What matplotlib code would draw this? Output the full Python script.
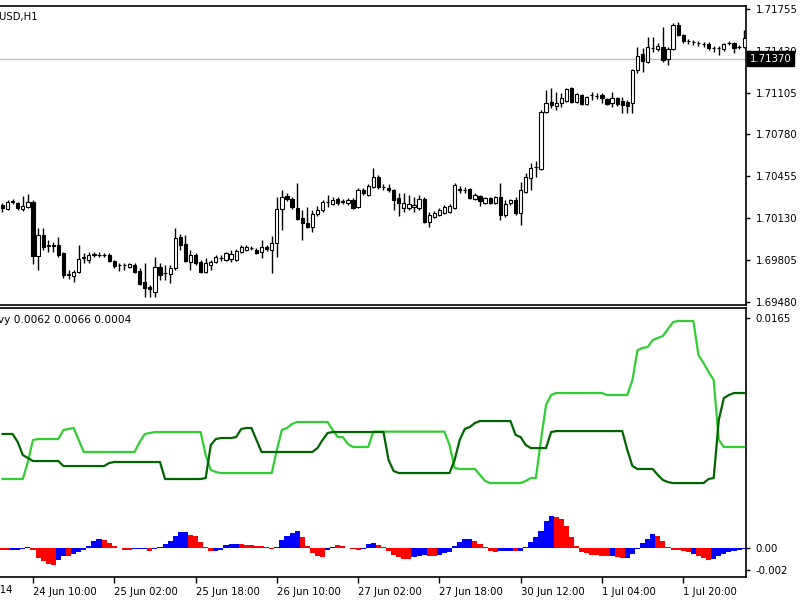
import numpy as np
import pandas as pd
import matplotlib
matplotlib.use("Agg")
import matplotlib.pyplot as plt

# ---------------- data ----------------
times = list(pd.date_range("2014-06-24 04:00", "2014-06-27 21:00", freq="h")) + \
        list(pd.date_range("2014-06-30 00:00", "2014-07-02 08:00", freq="h"))

opens = [1.70232, 1.70201, 1.70255, 1.70247, 1.70201, 1.70216, 1.70255, 1.69835, 1.69999, 1.69913,
         1.69921, 1.69921, 1.69859, 1.69688, 1.69680, 1.69711, 1.69820, 1.69804, 1.69843, 1.69843,
         1.69843, 1.69843, 1.69797, 1.69765, 1.69765, 1.69750, 1.69765, 1.69719, 1.69633, 1.69595,
         1.69556, 1.69750, 1.69703, 1.69695, 1.69742, 1.69983, 1.69929, 1.69789, 1.69843, 1.69789,
         1.69711, 1.69765, 1.69789, 1.69820, 1.69804, 1.69812, 1.69804, 1.69866, 1.69882, 1.69898,
         1.69882, 1.69866, 1.69905, 1.69882, 1.69936, 1.70201, 1.70302, 1.70278, 1.70208, 1.70131,
         1.70092, 1.70061, 1.70162, 1.70193, 1.70255, 1.70239, 1.70278, 1.70255, 1.70247, 1.70271,
         1.70216, 1.70348, 1.70309, 1.70372, 1.70449, 1.70372, 1.70364, 1.70348, 1.70286, 1.70208,
         1.70208, 1.70216, 1.70208, 1.70278, 1.70100, 1.70138, 1.70154, 1.70170, 1.70177, 1.70208,
         1.70356, 1.70348, 1.70356, 1.70278, 1.70302, 1.70247, 1.70286, 1.70247, 1.70294, 1.70154,
         1.70247, 1.70271, 1.70170, 1.70333, 1.70442, 1.70527, 1.70512, 1.70955, 1.71032, 1.71001,
         1.71025, 1.71040, 1.71141, 1.71032, 1.71087, 1.71017, 1.71087, 1.71079, 1.71087, 1.71056,
         1.71025, 1.71063, 1.71040, 1.71032, 1.71025, 1.71281, 1.71405, 1.71343, 1.71452, 1.71444,
         1.71460, 1.71366, 1.71444, 1.71631, 1.71553, 1.71506, 1.71499, 1.71491, 1.71483, 1.71483,
         1.71452, 1.71452, 1.71444, 1.71491, 1.71491, 1.71460, 1.71460]
closes = [1.70208, 1.70255, 1.70263, 1.70208, 1.70224, 1.70255, 1.69835, 1.69999, 1.69905, 1.69921,
          1.69913, 1.69843, 1.69688, 1.69695, 1.69711, 1.69812, 1.69828, 1.69843, 1.69851, 1.69840,
          1.69845, 1.69797, 1.69758, 1.69762, 1.69765, 1.69773, 1.69711, 1.69618, 1.69587, 1.69579,
          1.69750, 1.69688, 1.69700, 1.69742, 1.69975, 1.69921, 1.69797, 1.69843, 1.69781, 1.69711,
          1.69781, 1.69789, 1.69828, 1.69818, 1.69859, 1.69851, 1.69874, 1.69905, 1.69905, 1.69896,
          1.69859, 1.69905, 1.69890, 1.69936, 1.70201, 1.70294, 1.70278, 1.70216, 1.70123, 1.70092,
          1.70061, 1.70162, 1.70193, 1.70255, 1.70252, 1.70271, 1.70247, 1.70263, 1.70271, 1.70208,
          1.70348, 1.70325, 1.70379, 1.70449, 1.70372, 1.70370, 1.70348, 1.70271, 1.70247, 1.70247,
          1.70239, 1.70232, 1.70278, 1.70100, 1.70154, 1.70170, 1.70193, 1.70216, 1.70224, 1.70387,
          1.70348, 1.70346, 1.70286, 1.70309, 1.70263, 1.70286, 1.70247, 1.70294, 1.70154, 1.70239,
          1.70271, 1.70170, 1.70348, 1.70449, 1.70519, 1.70525, 1.70955, 1.71025, 1.71009, 1.71025,
          1.71063, 1.71133, 1.71032, 1.71094, 1.71017, 1.71071, 1.71085, 1.71077, 1.71063, 1.71017,
          1.71063, 1.71017, 1.71009, 1.71001, 1.71281, 1.71390, 1.71351, 1.71460, 1.71450, 1.71468,
          1.71359, 1.71444, 1.71631, 1.71553, 1.71506, 1.71504, 1.71497, 1.71489, 1.71481, 1.71452,
          1.71450, 1.71448, 1.71483, 1.71489, 1.71452, 1.71458, 1.71530]
highs = [1.70247, 1.70271, 1.70278, 1.70255, 1.70302, 1.70317, 1.70271, 1.70053, 1.70053, 1.69960,
         1.69944, 1.69983, 1.69866, 1.69727, 1.69727, 1.69921, 1.69859, 1.69866, 1.69866, 1.69866,
         1.69859, 1.69859, 1.69804, 1.69781, 1.69781, 1.69781, 1.69781, 1.69742, 1.69781, 1.69610,
         1.69828, 1.69781, 1.69765, 1.69765, 1.70053, 1.70006, 1.69999, 1.69882, 1.69859, 1.69804,
         1.69820, 1.69804, 1.69843, 1.69843, 1.69866, 1.69882, 1.69890, 1.69921, 1.69921, 1.69913,
         1.69898, 1.69960, 1.69921, 1.69991, 1.70294, 1.70348, 1.70325, 1.70294, 1.70403, 1.70193,
         1.70216, 1.70193, 1.70224, 1.70271, 1.70309, 1.70294, 1.70294, 1.70278, 1.70286, 1.70286,
         1.70364, 1.70364, 1.70395, 1.70519, 1.70465, 1.70395, 1.70395, 1.70356, 1.70325, 1.70325,
         1.70309, 1.70294, 1.70309, 1.70294, 1.70177, 1.70185, 1.70208, 1.70232, 1.70239, 1.70403,
         1.70379, 1.70372, 1.70364, 1.70325, 1.70309, 1.70294, 1.70294, 1.70302, 1.70403, 1.70271,
         1.70278, 1.70294, 1.70411, 1.70480, 1.70558, 1.70574, 1.70970, 1.71126, 1.71141, 1.71110,
         1.71102, 1.71141, 1.71149, 1.71102, 1.71094, 1.71079, 1.71110, 1.71102, 1.71102, 1.71063,
         1.71110, 1.71071, 1.71071, 1.71048, 1.71289, 1.71460, 1.71452, 1.71537, 1.71537, 1.71491,
         1.71615, 1.71460, 1.71646, 1.71654, 1.71561, 1.71522, 1.71514, 1.71506, 1.71499, 1.71499,
         1.71468, 1.71468, 1.71491, 1.71506, 1.71499, 1.71475, 1.71592]
lows = [1.70177, 1.70193, 1.70239, 1.70193, 1.70185, 1.70208, 1.69773, 1.69727, 1.69882, 1.69866,
        1.69866, 1.69828, 1.69664, 1.69657, 1.69633, 1.69703, 1.69781, 1.69781, 1.69828, 1.69828,
        1.69828, 1.69789, 1.69742, 1.69719, 1.69727, 1.69742, 1.69703, 1.69610, 1.69517, 1.69517,
        1.69517, 1.69649, 1.69649, 1.69626, 1.69727, 1.69882, 1.69789, 1.69727, 1.69765, 1.69703,
        1.69703, 1.69727, 1.69781, 1.69797, 1.69797, 1.69789, 1.69797, 1.69859, 1.69874, 1.69882,
        1.69851, 1.69820, 1.69874, 1.69703, 1.69828, 1.70037, 1.70263, 1.70201, 1.70115, 1.69960,
        1.70053, 1.70022, 1.70146, 1.70177, 1.70216, 1.70232, 1.70232, 1.70239, 1.70232, 1.70201,
        1.70208, 1.70309, 1.70302, 1.70364, 1.70356, 1.70348, 1.70333, 1.70193, 1.70146, 1.70177,
        1.70193, 1.70177, 1.70193, 1.70092, 1.70061, 1.70131, 1.70146, 1.70162, 1.70170, 1.70201,
        1.70325, 1.70325, 1.70278, 1.70271, 1.70224, 1.70239, 1.70239, 1.70239, 1.70115, 1.70138,
        1.70232, 1.70154, 1.70076, 1.70325, 1.70348, 1.70449, 1.70504, 1.70947, 1.70986, 1.70970,
        1.70993, 1.71032, 1.71025, 1.71025, 1.71009, 1.71009, 1.71048, 1.71056, 1.71025, 1.71009,
        1.70993, 1.71001, 1.70947, 1.70947, 1.70947, 1.71258, 1.71265, 1.71335, 1.71421, 1.71429,
        1.71343, 1.71320, 1.71436, 1.71545, 1.71491, 1.71483, 1.71475, 1.71468, 1.71460, 1.71436,
        1.71421, 1.71398, 1.71429, 1.71475, 1.71413, 1.71444, 1.71452]
bid_price = 1.71370
price_ticks = [1.69480, 1.69805, 1.70130, 1.70455, 1.70780, 1.71105, 1.71430, 1.71755]

line_light = ([0.00495] * 5 + [0.00617, 0.00775] + [0.00782] * 5 + [0.00847, 0.00854, 0.00861, 0.00775]
              + [0.00689] * 11 + [0.00760, 0.00818, 0.00825] + [0.00832] * 10 + [0.00667, 0.00560, 0.00545]
              + [0.00538] * 11 + [0.00703, 0.00847, 0.00861, 0.00890] + [0.00904] * 7
              + [0.00847, 0.00796, 0.00796, 0.00746] + [0.00725] * 4 + [0.00835] * 15
              + [0.00739, 0.00574] + [0.00567] * 4 + [0.00524, 0.00481] + [0.00466] * 7
              + [0.00481, 0.00502, 0.00502, 0.00775, 0.01026, 0.01098] + [0.01112] * 10 + [0.01098] * 5
              + [0.01205, 0.01420, 0.01435, 0.01442, 0.01492, 0.01507, 0.01521, 0.01571, 0.01621]
              + [0.01629] * 4 + [0.01385, 0.01327, 0.01263, 0.01205, 0.00775] + [0.00725] * 5)
line_dark = ([0.00818] * 3 + [0.00760, 0.00667, 0.00646] + [0.00624] * 6 + [0.00588] * 9 + [0.00610]
             + [0.00617] * 10 + [0.00495] * 8 + [0.00502, 0.00739, 0.00782] + [0.00789] * 3
             + [0.00796, 0.00854, 0.00861, 0.00861, 0.00775] + [0.00689] * 11 + [0.00717, 0.00775, 0.00825]
             + [0.00832] * 11 + [0.00631, 0.00552] + [0.00538] * 11 + [0.00631, 0.00775, 0.00854, 0.00868, 0.00897]
             + [0.00911] * 7 + [0.00811, 0.00796, 0.00739] + [0.00717] * 4 + [0.00832] + [0.00839] * 14
             + [0.00703, 0.00588] + [0.00567] * 4 + [0.00524, 0.00488, 0.00473] + [0.00466] * 7
             + [0.00495, 0.00502, 0.00918, 0.01076, 0.01098] + [0.01112] * 3)
hist = [-0.00014, -0.00014, -0.00011, -0.00011, -0.00007, 0.00007, -0.00014, -0.00072, -0.00093, -0.00115,
        -0.00122, -0.00086, -0.00057, -0.00057, -0.00043, -0.00029, -0.00014, 0.00014, 0.00050, 0.00065,
        0.00057, 0.00036, 0.00014, 0.00002, -0.00011, -0.00011, -0.00007, -0.00007, -0.00007, -0.00018,
        -0.00007, 0.00007, 0.00029, 0.00050, 0.00086, 0.00115, 0.00118, 0.00093, 0.00086, 0.00043,
        0.00004, -0.00022, -0.00018, -0.00014, 0.00022, 0.00029, 0.00032, 0.00029, 0.00025, 0.00022,
        0.00018, 0.00011, 0.00007, -0.00004, 0.00004, 0.00057, 0.00086, 0.00108, 0.00122, 0.00079,
        0.00014, -0.00036, -0.00057, -0.00065, -0.00014, 0.00007, 0.00022, 0.00018, 0.00002, -0.00007,
        -0.00011, -0.00004, 0.00029, 0.00036, 0.00022, 0.00004, -0.00022, -0.00050, -0.00065, -0.00079,
        -0.00079, -0.00065, -0.00057, -0.00050, -0.00054, -0.00057, -0.00050, -0.00039, -0.00029, 0.00014,
        0.00043, 0.00065, 0.00068, 0.00050, 0.00029, 0.00007, -0.00025, -0.00029, -0.00025, -0.00022,
        -0.00022, -0.00025, -0.00022, 0.00007, 0.00043, 0.00079, 0.00122, 0.00194, 0.00230, 0.00222,
        0.00208, 0.00158, 0.00079, 0.00011, -0.00029, -0.00039, -0.00047, -0.00050, -0.00057, -0.00057,
        -0.00054, -0.00065, -0.00072, -0.00075, -0.00043, -0.00007, 0.00036, 0.00065, 0.00100, 0.00086,
        0.00050, 0.00007, -0.00011, -0.00014, -0.00022, -0.00029, -0.00043, -0.00057, -0.00072, -0.00086,
        -0.00079, -0.00057, -0.00043, -0.00029, -0.00022, -0.00014, -0.00007]
hist_dir = ("rrbbbbrrrr" "rbbrbbbbbb" "rrrrrrbbbr" "bbbbbbbrrr" "rrbbbbbrrr"
            "rrrrbbbbbr" "rrrrbbrrrr" "rbbbrrrrrr" "rbbbrrbbbb" "bbbrrrrrbb"
            "brbbbbbbbr" "rrrrrrrrrr" "brrbbbbbbr" "rrrrrrbrrr" "bbbbbbb")
ind_ticks = [0.0165, 0.0, -0.00158]
ind_tick_labels = ["0.0165", "0.00", "-0.002"]
ind_label = "Heavy 0.0062 0.0066 0.0004"
symbol_label = "GBPUSD,H1"
first_date_label = "23 Jun 2014"

# ---------------- figure ----------------
W, H = 800, 600
FS = 7.3
plt.rcParams["font.family"] = ["DejaVu Sans"]
fig = plt.figure(figsize=(8, 6), dpi=100, facecolor="white")


def box(l, t, r, b):
    return [l / W, 1 - b / H, (r - l) / W, (b - t) / H]


ax = fig.add_axes(box(0, 5.5, 746, 305))
ax2 = fig.add_axes(box(0, 308, 746, 577))

n = len(closes)
x = np.arange(n)
o = np.array(opens)
c = np.array(closes)
hi = np.array(highs)
lo = np.array(lows)

ax.vlines(x, lo, hi, color="black", lw=1, zorder=2)
ax.bar(x, np.abs(c - o), bottom=np.minimum(o, c), width=0.64,
       color=np.where(c >= o, "white", "black"), edgecolor="black", linewidth=0.8, zorder=3)
ax.axhline(bid_price, color="#C0C0C0", lw=1, zorder=1)

xl = (-0.49, 146.36)
ax.set_xlim(*xl)
ax.set_ylim(1.69455, 1.71782)
ax.yaxis.tick_right()
ax.set_yticks(price_ticks)
ax.set_yticklabels([f"{p:.5f}" for p in price_ticks])
ax.tick_params(axis="y", direction="out", length=3, width=1, pad=4, labelsize=FS, colors="black")
ax.tick_params(axis="x", bottom=False, labelbottom=False)
ax.spines["left"].set_visible(False)
for s in ("top", "right", "bottom"):
    ax.spines[s].set_linewidth(1.2)

# indicator pane
hcol = ["#0000FF" if d == "b" else "#FF0000" for d in hist_dir]
ax2.bar(x, hist, width=1.0, color=hcol, linewidth=0, zorder=2)
ax2.plot(x, line_light, color="#32CD32", lw=1.6, zorder=3)
ax2.plot(x, line_dark, color="#006400", lw=1.6, zorder=3)
ax2.set_xlim(*xl)
ax2.set_ylim(-0.00208, 0.01722)
ax2.yaxis.tick_right()
ax2.set_yticks(ind_ticks)
ax2.set_yticklabels(ind_tick_labels)
ax2.tick_params(axis="y", direction="out", length=3, width=1, pad=4, labelsize=FS)
ax2.spines["left"].set_visible(False)
for s in ("top", "right", "bottom"):
    ax2.spines[s].set_linewidth(1.2)

tick_idx = list(range(6, n, 16))
ax2.set_xticks(tick_idx)
ax2.set_xticklabels([f"{times[i].day} {times[i].strftime('%b %H:%M')}" for i in tick_idx])
ax2.tick_params(axis="x", direction="out", length=4, width=1, pad=3, labelsize=FS)
for lab in ax2.get_xticklabels():
    lab.set_horizontalalignment("left")

# texts
fig.text(38 / W, 1 - 17 / H, symbol_label, ha="right", va="center", fontsize=FS)
fig.text(131 / W, 1 - 320 / H, ind_label, ha="right", va="center", fontsize=7.6)
fig.text(13 / W, 1 - 590 / H, first_date_label, ha="right", va="center", fontsize=FS)
fig.text(750 / W, 1 - 58.5 / H, f"{bid_price:.5f}", ha="left", va="center", fontsize=FS,
         color="white", bbox=dict(boxstyle="square,pad=0.25", fc="black", ec="black"), zorder=10)

fig.savefig("out.png", dpi=100, facecolor="white")
